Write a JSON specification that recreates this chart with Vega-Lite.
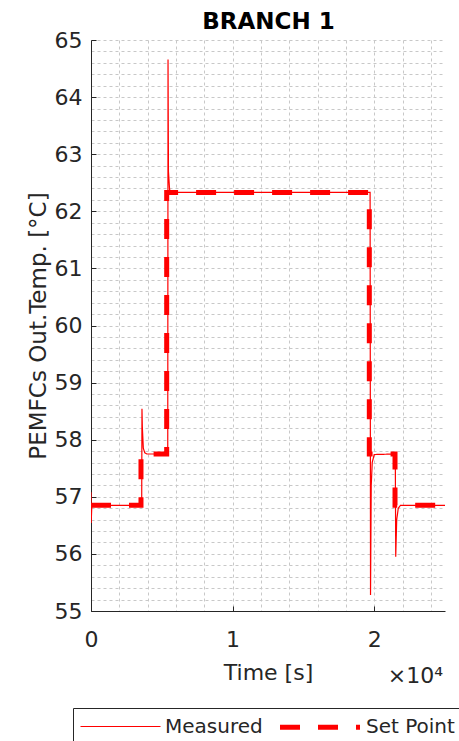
{
  "$schema": "https://vega.github.io/schema/vega-lite/v6.json",
  "width": 354,
  "height": 571,
  "autosize": {"type": "none"},
  "padding": {"left": 91, "top": 40, "right": 14, "bottom": 130},
  "background": "white",
  "config": {"view": {"stroke": null}, "font": "DejaVu Sans"},
  "resolve": {"axis": {"x": "independent"}},
  "layer": [
    {
      "data": {"values": [
        {"s": "Measured", "i": 1, "t": 0, "v": 57.08},
        {"s": "Measured", "i": 2, "t": 10, "v": 56.54},
        {"s": "Measured", "i": 3, "t": 60, "v": 56.85},
        {"s": "Measured", "i": 4, "t": 3580, "v": 56.85},
        {"s": "Measured", "i": 5, "t": 3600, "v": 58.54},
        {"s": "Measured", "i": 6, "t": 3625, "v": 58.23},
        {"s": "Measured", "i": 7, "t": 3695, "v": 57.85},
        {"s": "Measured", "i": 8, "t": 3800, "v": 57.77},
        {"s": "Measured", "i": 9, "t": 3950, "v": 57.75},
        {"s": "Measured", "i": 10, "t": 5420, "v": 57.75},
        {"s": "Measured", "i": 11, "t": 5440, "v": 64.66},
        {"s": "Measured", "i": 12, "t": 5470, "v": 62.7},
        {"s": "Measured", "i": 13, "t": 5550, "v": 62.38},
        {"s": "Measured", "i": 14, "t": 5700, "v": 62.33},
        {"s": "Measured", "i": 15, "t": 19710, "v": 62.33},
        {"s": "Measured", "i": 16, "t": 19740, "v": 55.28},
        {"s": "Measured", "i": 17, "t": 19790, "v": 57.2},
        {"s": "Measured", "i": 18, "t": 19860, "v": 57.6},
        {"s": "Measured", "i": 19, "t": 20000, "v": 57.74},
        {"s": "Measured", "i": 20, "t": 21490, "v": 57.75},
        {"s": "Measured", "i": 21, "t": 21520, "v": 55.95},
        {"s": "Measured", "i": 22, "t": 21590, "v": 56.6},
        {"s": "Measured", "i": 23, "t": 21700, "v": 56.8},
        {"s": "Measured", "i": 24, "t": 21850, "v": 56.85},
        {"s": "Measured", "i": 25, "t": 25000, "v": 56.85},
        {"s": "Set Point", "i": 1, "t": 0, "v": 56.85},
        {"s": "Set Point", "i": 2, "t": 3530, "v": 56.85},
        {"s": "Set Point", "i": 3, "t": 3530, "v": 57.75},
        {"s": "Set Point", "i": 4, "t": 5345, "v": 57.75},
        {"s": "Set Point", "i": 5, "t": 5345, "v": 62.33},
        {"s": "Set Point", "i": 6, "t": 19655, "v": 62.33},
        {"s": "Set Point", "i": 7, "t": 19655, "v": 57.75},
        {"s": "Set Point", "i": 8, "t": 21470, "v": 57.75},
        {"s": "Set Point", "i": 9, "t": 21470, "v": 56.85},
        {"s": "Set Point", "i": 10, "t": 25000, "v": 56.85}
      ]},
      "mark": {"type": "line", "clip": true, "strokeCap": "butt"},
      "encoding": {
        "x": {
          "field": "t", "type": "quantitative",
          "scale": {"domain": [0, 25000], "nice": false, "zero": false},
          "axis": {
            "orient": "bottom",
            "values": [0, 2000, 4000, 6000, 8000, 10000, 12000, 14000, 16000, 18000, 20000, 22000, 24000],
            "tickCount": 1000,
            "labelExpr": "datum.value % 10000 === 0 ? format(datum.value / 10000, 'd') : ''",
            "labelOverlap": false, "labelFlush": false,
            "labelFont": "DejaVu Sans", "labelFontSize": 22, "labelColor": "#262626",
            "labelPadding": 23,
            "tickSize": -5, "tickColor": "#262626",
            "tickOpacity": {"condition": {"test": "datum.value % 10000 === 0", "value": 1}, "value": 0},
            "domainColor": "#262626", "domainWidth": 1,
            "grid": true, "gridDash": [3, 3], "gridColor": "#c8c8c8", "gridWidth": 1,
            "title": "Time [s]", "titleFont": "DejaVu Sans", "titleFontSize": 22, "titleFontWeight": "normal", "titleColor": "#262626", "titlePadding": 12
          }
        },
        "y": {
          "field": "v", "type": "quantitative",
          "scale": {"domain": [55, 65], "nice": false, "zero": false},
          "axis": {
            "values": [55, 55.2, 55.4, 55.6, 55.8, 56, 56.2, 56.4, 56.6, 56.8, 57, 57.2, 57.4, 57.6, 57.8, 58, 58.2, 58.4, 58.6, 58.8, 59, 59.2, 59.4, 59.6, 59.8, 60, 60.2, 60.4, 60.6, 60.8, 61, 61.2, 61.4, 61.6, 61.8, 62, 62.2, 62.4, 62.6, 62.8, 63, 63.2, 63.4, 63.6, 63.8, 64, 64.2, 64.4, 64.6, 64.8, 65],
            "tickCount": 1000,
            "labelExpr": "abs(datum.value - round(datum.value)) < 0.001 ? format(datum.value, 'd') : ''",
            "labelOverlap": false, "labelFlush": false,
            "labelFont": "DejaVu Sans", "labelFontSize": 22, "labelColor": "#262626",
            "labelPadding": 14,
            "tickSize": -5, "tickColor": "#262626",
            "tickOpacity": {"condition": {"test": "abs(datum.value - round(datum.value)) < 0.001", "value": 1}, "value": 0},
            "domainColor": "#262626", "domainWidth": 1,
            "grid": true, "gridDash": [3, 3], "gridColor": "#c8c8c8", "gridWidth": 1,
            "title": "PEMFCs Out.Temp. [°C]", "titleFont": "DejaVu Sans", "titleFontSize": 23, "titleFontWeight": "normal", "titleColor": "#262626", "titlePadding": 4
          }
        },
        "order": {"field": "i", "type": "quantitative"},
        "color": {
          "field": "s", "type": "nominal",
          "scale": {"domain": ["Measured", "Set Point"], "range": ["#ff0000", "#ff0000"]},
          "legend": {"orient": "none", "legendX": -18, "legendY": 668, "direction": "horizontal", "title": null, "strokeColor": "#262626", "fillColor": "white", "padding": 6.5, "symbolType": "M-1,0H7", "symbolSize": 400, "labelOffset": 63.5, "labelFontSize": 20, "labelFont": "DejaVu Sans", "labelColor": "#262626", "columnPadding": 6}
        },
        "strokeDash": {
          "field": "s", "type": "nominal",
          "scale": {"domain": ["Measured", "Set Point"], "range": [[1, 0], [20, 18]]},
          "legend": {"orient": "none", "legendX": -18, "legendY": 668, "direction": "horizontal", "title": null, "strokeColor": "#262626", "fillColor": "white", "padding": 6.5, "symbolType": "M-1,0H7", "symbolSize": 400, "labelOffset": 63.5, "labelFontSize": 20, "labelFont": "DejaVu Sans", "labelColor": "#262626", "columnPadding": 6}
        },
        "strokeWidth": {
          "field": "s", "type": "nominal",
          "scale": {"domain": ["Measured", "Set Point"], "range": [1.2, 5]},
          "legend": {"orient": "none", "legendX": -18, "legendY": 668, "direction": "horizontal", "title": null, "strokeColor": "#262626", "fillColor": "white", "padding": 6.5, "symbolType": "M-1,0H7", "symbolSize": 400, "labelOffset": 63.5, "labelFontSize": 20, "labelFont": "DejaVu Sans", "labelColor": "#262626", "columnPadding": 6}
        }
      }
    },
    {
      "data": {"values": [{"label": "×10⁴"}]},
      "mark": {"type": "text", "align": "right", "baseline": "alphabetic", "font": "DejaVu Sans", "fontSize": 22, "color": "#262626", "dx": -2},
      "encoding": {
        "x": {
          "datum": 25000, "type": "quantitative",
          "axis": {
            "orient": "top", "labels": false, "ticks": false, "domain": false, "grid": false,
            "title": "BRANCH 1", "titleFont": "DejaVu Sans", "titleFontSize": 23, "titleFontWeight": "bold", "titleColor": "#000000",
            "titleBaseline": "alphabetic", "titlePadding": 12
          }
        },
        "y": {"datum": 53.74, "type": "quantitative"},
        "text": {"field": "label", "type": "nominal"}
      }
    }
  ]
}
